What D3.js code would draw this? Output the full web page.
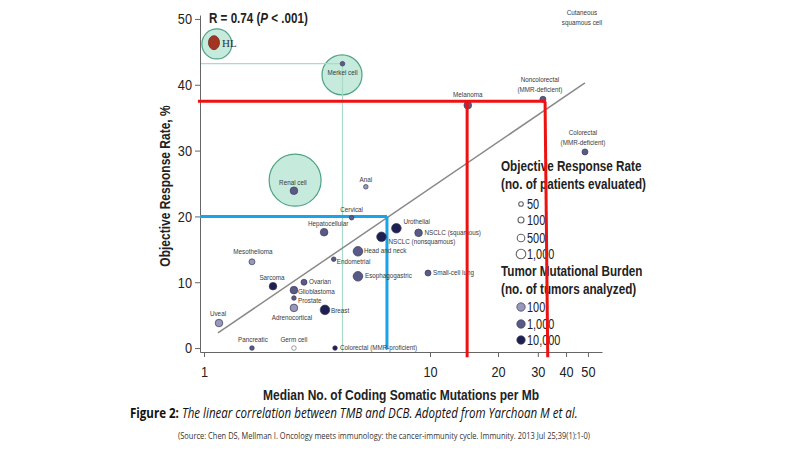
<!DOCTYPE html>
<html>
<head>
<meta charset="utf-8">
<script src="https://cdn.jsdelivr.net/npm/d3@7"></script>
<style>
  body { margin: 0; background: #fff; }
  svg { display: block; }
  .narrow { font-family: "Liberation Sans", Arial, sans-serif; }
</style>
</head>
<body>
<svg id="chart" width="800" height="450"></svg>
<script>
// tumour types, median mutations per Mb, objective response rate %
var names = ["Merkel cell", "Melanoma", "Noncolorectal|(MMR-deficient)", "Colorectal|(MMR-deficient)",
  "Renal cell", "Anal", "Cervical", "Hepatocellular", "Urothelial", "NSCLC (nonsquamous)",
  "NSCLC (squamous)", "Head and neck", "Endometrial", "Mesothelioma", "Esophagogastric",
  "Small-cell lung", "Sarcoma", "Ovarian", "Glioblastoma", "Prostate", "Adrenocortical",
  "Breast", "Uveal", "Pancreatic", "Germ cell", "Colorectal (MMR-proficient)"];
var tmb = [4.1, 14.7, 31.6, 48.5, 2.5, 5.2, 4.5, 3.4, 7.1, 6.1,
  8.9, 4.8, 3.75, 1.63, 4.8, 9.8, 2.02, 2.77, 2.5, 2.5, 2.5,
  3.43, 1.165, 1.63, 2.5, 3.8];
var orr = [43.2, 36.9, 37.8, 29.8, 23.9, 24.5, 19.8, 17.6, 18.2, 16.9,
  17.5, 14.7, 13.5, 13.1, 10.9, 11.4, 9.4, 10.0, 8.8, 7.6, 6.1,
  5.8, 3.8, 0, 0, 0];
// no. of patients evaluated (size) and no. of tumours analysed (shade)
var patients = [50, 500, 100, 100, 500, 50, 50, 500, 1000, 1000,
  500, 1000, 50, 100, 1000, 100, 500, 100, 500, 50, 500,
  1000, 500, 50, 50, 50];
var tumors = [1000, 1000, 1000, 1000, 1000, 100, 1000, 1000, 10000, 10000,
  1000, 1000, 1000, 100, 1000, 1000, 10000, 1000, 1000, 1000, 100,
  10000, 100, 1000, 0, 10000];

// Hodgkin lymphoma
var hlTmb = 1.107, hlOrr = 46.4;

// highlighted circles (centre tmb, centre orr)
var ringTmb = [1.14, 4.08, 2.53];
var ringOrr = [46.2, 41.5, 25.5];

// cut-off lines: [x1, y1, x2, y2]
var redLines = [[0.94, 37.5, 32.3, 37.5], [14.6, 37.5, 14.6, -1.4], [32.3, 37.5, 33.2, -1.4]];
var blueLines = [[0.96, 20, 6.45, 20], [6.45, 20, 6.45, -0.2]];
var greenLines = [[0.96, 43.2, 4.1, 43.2], [4.1, 43.2, 4.1, -0.6]];
var fitLine = [1.153, 2.3, 48.5, 40.3];

var xTicks = [1, 10, 20, 30, 40, 50];
var yTicks = [0, 10, 20, 30, 40, 50];
var legendPatients = [50, 100, 500, 1000];
var legendTumors = [100, 1000, 10000];

var svg = d3.select("#chart");

var x = d3.scaleLog().domain([0.96, 57.7]).range([200, 602]);
var y = d3.scaleLinear().domain([-0.6, 50.6]).range([352, 15]);
var r = d3.scaleOrdinal().domain([50, 100, 500, 1000]).range([2.3, 3, 3.8, 4.8]);
var shade = d3.scaleOrdinal().domain([0, 100, 1000, 10000]).range(["#ffffff", "#9898b8", "#5a5a86", "#1e2050"]);

// squeeze text to look like a narrow face
function condense(sel, f) {
  sel.each(function() {
    var L = this.getComputedTextLength();
    d3.select(this).attr("textLength", L * f).attr("lengthAdjust", "spacingAndGlyphs");
  });
}
// squeeze a text with tspans by scaling its group to a given width
function squeezeTo(g, txt, w) {
  var L = txt.node().getComputedTextLength();
  g.attr("transform", g.attr("transform") + " scale(" + (w / L) + ",1)");
}

// green rings
svg.append("g").selectAll("circle").data(ringTmb).join("circle")
  .attr("cx", function(d) { return x(d); })
  .attr("cy", function(d, i) { return y(ringOrr[i]); })
  .attr("r", function(d, i) { return [15, 20, 26][i]; })
  .attr("fill", "#c6eadb")
  .attr("stroke", "#4da383")
  .attr("stroke-width", 1.2);

function drawSegs(segs, color, width) {
  svg.append("g").selectAll("line").data(segs).join("line")
    .attr("x1", function(d) { return x(d[0]); })
    .attr("y1", function(d) { return y(d[1]); })
    .attr("x2", function(d) { return x(d[2]); })
    .attr("y2", function(d) { return y(d[3]); })
    .attr("stroke", color)
    .attr("stroke-width", width);
}
drawSegs(greenLines, "#a8dcc8", 1.2);

// axes
var yAxis = svg.append("g").attr("class", "narrow")
  .attr("transform", "translate(200,0)")
  .call(d3.axisLeft(y).tickValues(yTicks).tickSize(5).tickSizeOuter(0).tickPadding(3));
var xAxis = svg.append("g").attr("class", "narrow")
  .attr("transform", "translate(0,352)")
  .call(d3.axisBottom(x).tickValues(xTicks).tickFormat(d3.format("d")).tickSize(5).tickSizeOuter(0).tickPadding(9));
[yAxis, xAxis].forEach(function(a) {
  a.selectAll("path, line").attr("stroke", "#666");
  a.selectAll("text").attr("font-size", 15).attr("fill", "#222")
    .attr("font-family", "'Liberation Sans', Arial, sans-serif");
  condense(a.selectAll("text"), 0.85);
});

// regression line
svg.append("line")
  .attr("x1", x(fitLine[0])).attr("y1", y(fitLine[1]))
  .attr("x2", x(fitLine[2])).attr("y2", y(fitLine[3]))
  .attr("stroke", "#8a8a8a").attr("stroke-width", 1.5);

drawSegs(blueLines, "#1aa3e8", 3);

// points
var pts = svg.append("g");
names.forEach(function(n, i) {
  pts.append("circle")
    .attr("cx", x(tmb[i]))
    .attr("cy", y(orr[i]))
    .attr("r", r(patients[i]))
    .attr("fill", shade(tumors[i]))
    .attr("stroke", tumors[i] == 0 ? "#777" : "#3a3a60")
    .attr("stroke-width", 0.7);
});

// HL point
svg.append("ellipse")
  .attr("cx", x(hlTmb)).attr("cy", y(hlOrr))
  .attr("rx", 5.5).attr("ry", 7)
  .attr("fill", "#a33422").attr("stroke", "#6b2a1d").attr("stroke-width", 0.8);
svg.append("text")
  .attr("x", x(hlTmb) + 8).attr("y", y(hlOrr) + 4)
  .attr("font-family", "'Liberation Serif', 'DejaVu Serif', serif")
  .attr("font-size", 11).attr("fill", "#333")
  .text("HL");

// label placement: [dx, dy, anchor]
var labelPos = {
  "Merkel cell": [0, 9, "middle"],
  "Melanoma": [0, -10, "middle"],
  "Noncolorectal|(MMR-deficient)": [-3, -19, "middle"],
  "Colorectal|(MMR-deficient)": [-2, -19, "middle"],
  "Renal cell": [-1, -8, "middle"],
  "Anal": [0, -7, "middle"],
  "Cervical": [0, -8, "middle"],
  "Hepatocellular": [4, -8, "middle"],
  "Urothelial": [7, -6, "start"],
  "NSCLC (nonsquamous)": [7, 5, "start"],
  "NSCLC (squamous)": [6, 0, "start"],
  "Head and neck": [6, 0, "start"],
  "Endometrial": [3, 3, "start"],
  "Mesothelioma": [1, -10, "middle"],
  "Esophagogastric": [7, 0, "start"],
  "Small-cell lung": [5, 0, "start"],
  "Sarcoma": [-1, -8, "middle"],
  "Ovarian": [5, 0, "start"],
  "Glioblastoma": [4, 2, "start"],
  "Prostate": [4, 3, "start"],
  "Adrenocortical": [-2, 10, "middle"],
  "Breast": [6, 1, "start"],
  "Uveal": [-1, -9, "middle"],
  "Pancreatic": [1, -8, "middle"],
  "Germ cell": [0, -8, "middle"],
  "Colorectal (MMR-proficient)": [5, 0, "start"]
};

var labels = svg.append("g").attr("class", "narrow").attr("font-size", 7.5).attr("fill", "#3a3a3a");
names.forEach(function(n, i) {
  var p = labelPos[n];
  var lines = n.split("|");
  lines.forEach(function(s, k) {
    labels.append("text")
      .attr("x", x(tmb[i]) + p[0])
      .attr("y", y(orr[i]) + p[1] + k * 10)
      .attr("text-anchor", p[2])
      .attr("dominant-baseline", "middle")
      .text(s);
  });
});
labels.append("text").attr("x", 582).attr("y", 13).attr("text-anchor", "middle")
  .attr("dominant-baseline", "middle").text("Cutaneous");
labels.append("text").attr("x", 582).attr("y", 23).attr("text-anchor", "middle")
  .attr("dominant-baseline", "middle").text("squamous cell");
condense(labels.selectAll("text"), 0.84);

// legend
var lg = svg.append("g").attr("class", "narrow").attr("fill", "#222");
lg.append("text").attr("x", 501).attr("y", 171).attr("font-size", 15).attr("font-weight", "bold")
  .text("Objective Response Rate");
lg.append("text").attr("x", 501).attr("y", 189).attr("font-size", 15).attr("font-weight", "bold")
  .text("(no. of patients evaluated)");
var lpY = [204, 220, 238, 254];
legendPatients.forEach(function(v, i) {
  lg.append("circle").attr("cx", 521).attr("cy", lpY[i]).attr("r", r(v))
    .attr("fill", "#fff").attr("stroke", "#666").attr("stroke-width", 1.1);
  lg.append("text").attr("x", 527).attr("y", lpY[i] + 5).attr("font-size", 14).text(d3.format(",")(v));
});
lg.append("text").attr("x", 501).attr("y", 276).attr("font-size", 15).attr("font-weight", "bold")
  .text("Tumor Mutational Burden");
lg.append("text").attr("x", 501).attr("y", 294).attr("font-size", 15).attr("font-weight", "bold")
  .text("(no. of tumors analyzed)");
var ltY = [307, 324, 340];
legendTumors.forEach(function(v, i) {
  lg.append("circle").attr("cx", 521).attr("cy", ltY[i]).attr("r", 4.2)
    .attr("fill", shade(v)).attr("stroke", "#3a3a60").attr("stroke-width", 0.7);
  lg.append("text").attr("x", 527).attr("y", ltY[i] + 5).attr("font-size", 14).text(d3.format(",")(v));
});
condense(lg.selectAll("text"), 0.78);

drawSegs(redLines, "#ee1111", 3);

// titles
var t = svg.append("g").attr("class", "narrow").attr("fill", "#222").attr("font-weight", "bold");
t.append("text").attr("x", 401).attr("y", 400).attr("text-anchor", "middle").attr("font-size", 15)
  .text("Median No. of Coding Somatic Mutations per Mb");
t.append("text").attr("transform", "translate(170,186) rotate(-90)").attr("text-anchor", "middle")
  .attr("font-size", 15).text("Objective Response Rate, %");
condense(t.selectAll("text"), 0.8);

var rg = svg.append("g").attr("class", "narrow").attr("transform", "translate(209,23)");
var rt = rg.append("text").attr("font-size", 15).attr("font-weight", "bold").attr("fill", "#222");
rt.append("tspan").text("R = 0.74 (");
rt.append("tspan").attr("font-style", "italic").text("P");
rt.append("tspan").text(" < .001)");
squeezeTo(rg, rt, 99);

// caption
var cg = svg.append("g").attr("transform", "translate(130,418)");
var cap = cg.append("text").attr("font-size", 15)
  .attr("font-family", "'Open Sans', 'Liberation Sans', sans-serif").attr("fill", "#111");
cap.append("tspan").attr("font-weight", "bold").text("Figure 2:  ");
cap.append("tspan").attr("font-style", "italic")
  .text("The linear correlation between TMB and DCB. Adopted from Yarchoan M et al.");
squeezeTo(cg, cap, 448);
svg.append("text").attr("x", 178).attr("y", 439).attr("font-size", 9.5)
  .attr("font-family", "'Open Sans', 'Liberation Sans', sans-serif").attr("fill", "#333")
  .attr("textLength", 412).attr("lengthAdjust", "spacingAndGlyphs")
  .text("(Source: Chen DS, Mellman I. Oncology meets immunology: the cancer-immunity cycle. Immunity. 2013 Jul 25;39(1):1-0)");
</script>
</body>
</html>
